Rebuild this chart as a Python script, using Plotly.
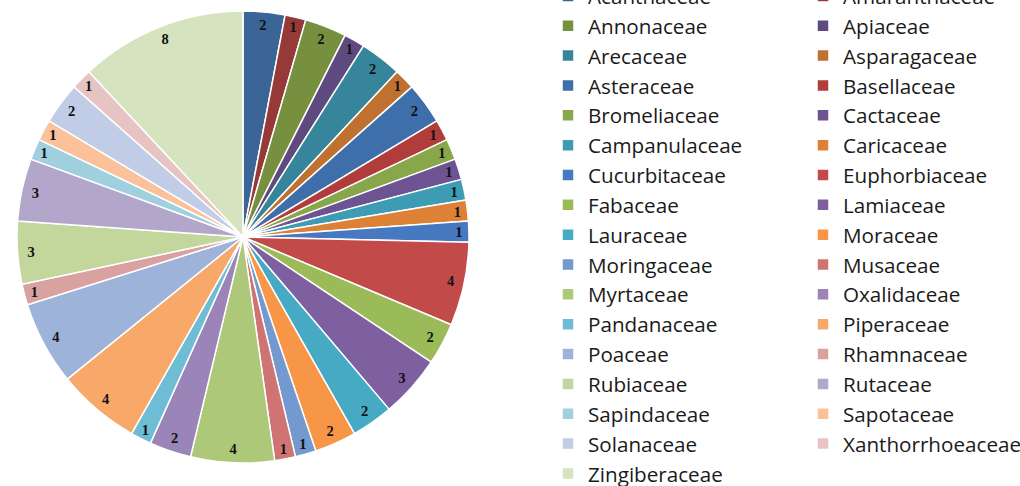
import plotly.graph_objects as go

families = ["Acanthaceae", "Amaranthaceae", "Annonaceae", "Apiaceae", "Arecaceae", "Asparagaceae",
            "Asteraceae", "Basellaceae", "Bromeliaceae", "Cactaceae", "Campanulaceae", "Caricaceae",
            "Cucurbitaceae", "Euphorbiaceae", "Fabaceae", "Lamiaceae", "Lauraceae", "Moraceae",
            "Moringaceae", "Musaceae", "Myrtaceae", "Oxalidaceae", "Pandanaceae", "Piperaceae",
            "Poaceae", "Rhamnaceae", "Rubiaceae", "Rutaceae", "Sapindaceae", "Sapotaceae",
            "Solanaceae", "Xanthorrhoeaceae", "Zingiberaceae"]
counts = [2, 1, 2, 1, 2, 1,
          2, 1, 1, 1, 1, 1,
          1, 4, 2, 3, 2, 2,
          1, 1, 4, 2, 1, 4,
          4, 1, 3, 3, 1, 1,
          2, 1, 8]
colors = ["#3B6596", "#963A38", "#76903F", "#5E4A7E", "#37859A", "#BF712F",
          "#3F6FAB", "#B03D3B", "#88A64A", "#6D5391", "#3D9CB4", "#DD8136",
          "#4679BF", "#C24B4A", "#9BBB59", "#7E60A1", "#46AAC5", "#F79646",
          "#7399CF", "#CF7473", "#AEC879", "#9A84B8", "#6EBDD4", "#F8A96A",
          "#9DB3D9", "#D9A1A0", "#C3D69C", "#B3A6CB", "#A0D0E0", "#FAC19B",
          "#C1CDE6", "#E7C4C4", "#D6E3BF"]

PIE_DOMAIN = dict(x=[17/540, 469/540], y=[23/486, 475/486])
legend_font = dict(family="Open Sans", size=20.65, color="#1a1a1a")

fig = go.Figure()
# main pie (also carries the legend)
fig.add_trace(go.Pie(
    labels=families, values=counts, sort=False, direction="clockwise", rotation=0,
    marker=dict(colors=colors, line=dict(color="white", width=1.5)),
    textinfo="none", domain=PIE_DOMAIN, showlegend=True,
))
# value labels near the outer edge
fig.add_trace(go.Pie(
    labels=families, values=counts, sort=False, direction="clockwise", rotation=0,
    hole=0.88, marker=dict(colors=["rgba(0,0,0,0)"] * len(counts), line=dict(width=0)),
    texttemplate="%{value}", textposition="inside", insidetextorientation="horizontal",
    textfont=dict(family="Liberation Serif", size=14.5, color="#111111", weight="bold"),
    domain=PIE_DOMAIN, showlegend=False, hoverinfo="skip",
))
fig.update_layout(
    width=1020, height=486,
    margin=dict(l=0, r=480, t=0, b=0, autoexpand=False),
    paper_bgcolor="white", plot_bgcolor="white",
    legend=dict(orientation="h", x=548/540, xanchor="left", y=1 + 24/486, yanchor="top",
                entrywidth=210, entrywidthmode="pixels", font=legend_font,
                maxheight=1000,
                bgcolor="rgba(0,0,0,0)", traceorder="normal"),
)
fig.write_html("out.html", config={"staticPlot": True})
